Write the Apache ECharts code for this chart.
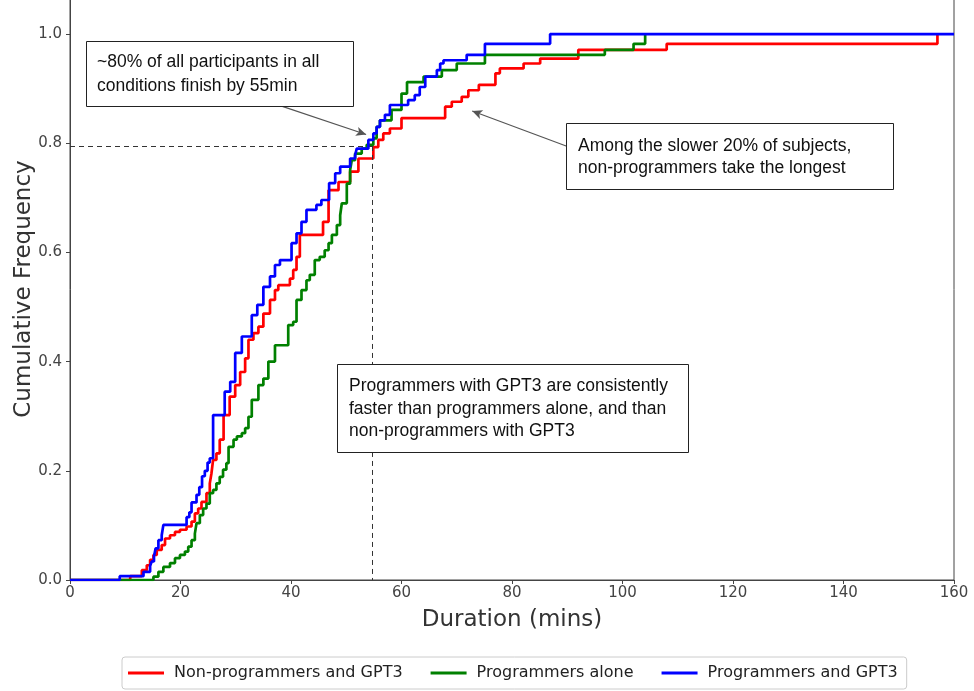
<!DOCTYPE html>
<html>
<head>
<meta charset="utf-8">
<script src="https://cdn.jsdelivr.net/npm/echarts@6/dist/echarts.min.js"></script>
<style>
html,body{margin:0;padding:0;background:#fff;}
#chart{width:974px;height:691px;}
</style>
</head>
<body>
<div id="chart"></div>
<script>
// Series names
const seriesNames = ['Non-programmers and GPT3', 'Programmers alone', 'Programmers and GPT3'];
// Axis ticks
const xTicks = [0, 20, 40, 60, 80, 100, 120, 140, 160];
const yTicks = [0, 0.2, 0.4, 0.6, 0.8, 1.0];

// ECDF step points [duration (mins), cumulative frequency]
const nonProgGPT3 = [[0,0],[10.9,0.007],[13.0,0.018],[13.9,0.027],[14.5,0.037],[15.1,0.046],[15.7,0.055],[16.6,0.064],[17.2,0.076],[18.1,0.082],[19.0,0.088],[19.9,0.092],[21.1,0.098],[22.0,0.107],[22.6,0.122],[23.2,0.131],[23.8,0.143],[24.7,0.159],[25.3,0.177],[25.6,0.195],[25.9,0.22],[26.5,0.232],[27.1,0.257],[27.8,0.302],[28.9,0.336],[29.9,0.357],[30.8,0.381],[31.7,0.406],[32.3,0.44],[33.2,0.452],[34.1,0.464],[35.0,0.488],[36.2,0.513],[37.1,0.531],[37.7,0.540],[39.8,0.552],[40.4,0.568],[41.0,0.592],[41.6,0.632],[45.8,0.656],[46.8,0.714],[48.6,0.729],[50.7,0.748],[52.2,0.772],[54.9,0.793],[55.8,0.806],[56.7,0.818],[57.9,0.827],[60.0,0.846],[67.9,0.867],[69.1,0.876],[70.9,0.885],[72.1,0.897],[74.0,0.907],[77.0,0.928],[77.8,0.937],[82.1,0.946],[85.1,0.955],[92.0,0.971],[108.0,0.982],[157.0,1.0]];
const progAlone = [[0,0],[15.1,0.006],[16.0,0.015],[16.9,0.024],[18.1,0.031],[19.0,0.04],[19.9,0.046],[20.8,0.052],[21.4,0.061],[22.0,0.073],[22.6,0.085],[22.9,0.104],[23.5,0.119],[24.1,0.131],[24.7,0.14],[25.3,0.159],[25.9,0.165],[26.5,0.177],[27.1,0.189],[27.7,0.202],[28.3,0.214],[28.7,0.244],[29.6,0.257],[30.2,0.263],[31.1,0.269],[31.7,0.278],[32.3,0.299],[32.9,0.33],[34.1,0.357],[35.0,0.369],[35.9,0.4],[37.1,0.43],[39.5,0.467],[40.4,0.473],[41.0,0.513],[41.9,0.531],[42.8,0.549],[43.4,0.559],[44.3,0.586],[45.2,0.592],[46.1,0.604],[46.8,0.617],[47.4,0.632],[48.3,0.65],[48.9,0.668],[49.2,0.69],[50.1,0.726],[50.7,0.751],[51.0,0.769],[51.6,0.781],[52.8,0.79],[53.7,0.797],[54.9,0.809],[55.5,0.83],[56.1,0.842],[58.2,0.861],[60.0,0.891],[61.0,0.912],[64.0,0.922],[67.3,0.934],[70.0,0.946],[75.1,0.962],[96.8,0.971],[102.0,0.982],[104.1,1.0]];
const progGPT3 = [[0,0],[9.0,0.007],[13.3,0.015],[14.5,0.026],[14.8,0.034],[15.2,0.043],[15.5,0.058],[16.0,0.073],[16.6,0.082],[16.9,0.101],[21.1,0.115],[21.6,0.124],[22.0,0.142],[22.9,0.156],[23.4,0.17],[23.9,0.19],[24.4,0.2],[24.9,0.215],[25.3,0.223],[25.9,0.302],[28.0,0.345],[29.0,0.363],[29.9,0.416],[31.1,0.446],[32.9,0.485],[33.9,0.504],[35.0,0.537],[36.2,0.556],[37.1,0.577],[38.0,0.586],[40.1,0.617],[41.0,0.635],[41.9,0.656],[42.8,0.678],[44.6,0.687],[45.5,0.696],[46.9,0.727],[48.0,0.745],[48.9,0.757],[50.7,0.772],[51.6,0.778],[51.9,0.79],[54.0,0.806],[54.9,0.818],[55.5,0.83],[56.1,0.842],[57.0,0.852],[57.9,0.87],[61.2,0.879],[62.4,0.888],[63.3,0.903],[64.3,0.922],[66.4,0.934],[67.0,0.946],[67.6,0.952],[71.8,0.962],[75.1,0.982],[86.9,1.0],[160,1.0]];

// Reference guides (data units)
const guideX = 54.7, guideY = 0.795;

const colors = ['#ff0000', '#008000', '#0000ff'];
const seriesData = [nonProgGPT3, progAlone, progGPT3];

const chart = echarts.init(document.getElementById('chart'), null, {renderer: 'canvas'});

const series = seriesData.map((d, i) => ({
  name: seriesNames[i],
  type: 'line',
  step: 'end',
  data: d,
  showSymbol: false,
  symbol: 'none',
  lineStyle: {color: colors[i], width: 2.7},
  itemStyle: {color: colors[i]},
  animation: false,
  z: 3 + i
}));

series[0].markLine = {
  silent: true,
  animation: false,
  symbol: ['none', 'none'],
  label: {show: false},
  lineStyle: {color: '#333', type: [5, 4], width: 1},
  data: [
    [{coord: [0, guideY]}, {coord: [guideX, guideY]}],
    [{coord: [guideX, guideY]}, {coord: [guideX, 0]}]
  ]
};
series[1].markLine = {
  silent: true,
  animation: false,
  symbol: ['none', 'arrow'],
  symbolSize: [7, 10],
  label: {show: false},
  lineStyle: {color: '#555', type: 'solid', width: 1.2},
  data: [
    [{coord: [38.3, 0.868]}, {coord: [53.6, 0.816]}],
    [{coord: [89.8, 0.795]}, {coord: [72.8, 0.859]}]
  ]
};

const labelFont = 'DejaVu Sans';
const annFont = '17.5px "Liberation Sans"';

function annText(x, y, t) {
  return {type: 'text', x: x, y: y, style: {text: t, font: annFont, fill: '#111', verticalAlign: 'middle'}, z: 101};
}

chart.setOption({
  backgroundColor: '#fff',
  animation: false,
  grid: {left: 70, right: 20, top: -2, bottom: 111, show: true, borderColor: '#444', borderWidth: 1,
    containLabel: false, outerBoundsMode: 'none'},
  legend: {
    data: seriesNames,
    bottom: 2,
    left: 122,
    padding: [8, 9, 8, 6],
    itemGap: 28,
    itemWidth: 36,
    itemHeight: 3,
    icon: 'rect',
    borderColor: '#ccc',
    borderWidth: 1,
    borderRadius: 3,
    textStyle: {fontFamily: labelFont, fontSize: 16, color: '#222', padding: [0, 0, 0, 5]}
  },
  xAxis: {
    type: 'value',
    min: 0, max: 160, interval: 20,
    name: 'Duration (mins)',
    nameLocation: 'middle',
    nameGap: 29,
    nameMoveOverlap: false,
    nameTextStyle: {fontFamily: labelFont, fontSize: 23, color: '#333'},
    axisLine: {show: true, lineStyle: {color: '#444'}},
    axisTick: {show: true, length: 4, lineStyle: {color: '#444'}},
    axisLabel: {fontFamily: labelFont, fontSize: 15, color: '#444', margin: 6},
    splitLine: {show: false}
  },
  yAxis: {
    type: 'value',
    min: 0, max: 1.066,
    name: 'Cumulative Frequency',
    nameLocation: 'middle',
    nameGap: 34,
    nameMoveOverlap: false,
    nameTextStyle: {fontFamily: labelFont, fontSize: 23, color: '#333'},
    axisLine: {show: true, lineStyle: {color: '#444'}},
    axisTick: {show: true, length: 4, lineStyle: {color: '#444'}, customValues: yTicks},
    axisLabel: {fontFamily: labelFont, fontSize: 15, color: '#444', margin: 8, customValues: yTicks,
      formatter: v => v.toFixed(1)},
    splitLine: {show: false}
  },
  series: series,
  graphic: [
    {type: 'rect', shape: {x: 86.5, y: 41.5, width: 267, height: 65}, style: {fill: '#fff', stroke: '#222', lineWidth: 1}, z: 100},
    annText(97, 62, '~80% of all participants in all'),
    annText(97, 86, 'conditions finish by 55min'),
    {type: 'rect', shape: {x: 566.5, y: 123.5, width: 327, height: 66}, style: {fill: '#fff', stroke: '#222', lineWidth: 1}, z: 100},
    annText(578, 146, 'Among the slower 20% of subjects,'),
    annText(578, 168, 'non-programmers take the longest'),
    {type: 'rect', shape: {x: 337.5, y: 364.5, width: 351, height: 88}, style: {fill: '#fff', stroke: '#222', lineWidth: 1}, z: 100},
    annText(349, 386, 'Programmers with GPT3 are consistently'),
    annText(349, 409, 'faster than programmers alone, and than'),
    annText(349, 431, 'non-programmers with GPT3')
  ]
});
</script>
</body>
</html>
